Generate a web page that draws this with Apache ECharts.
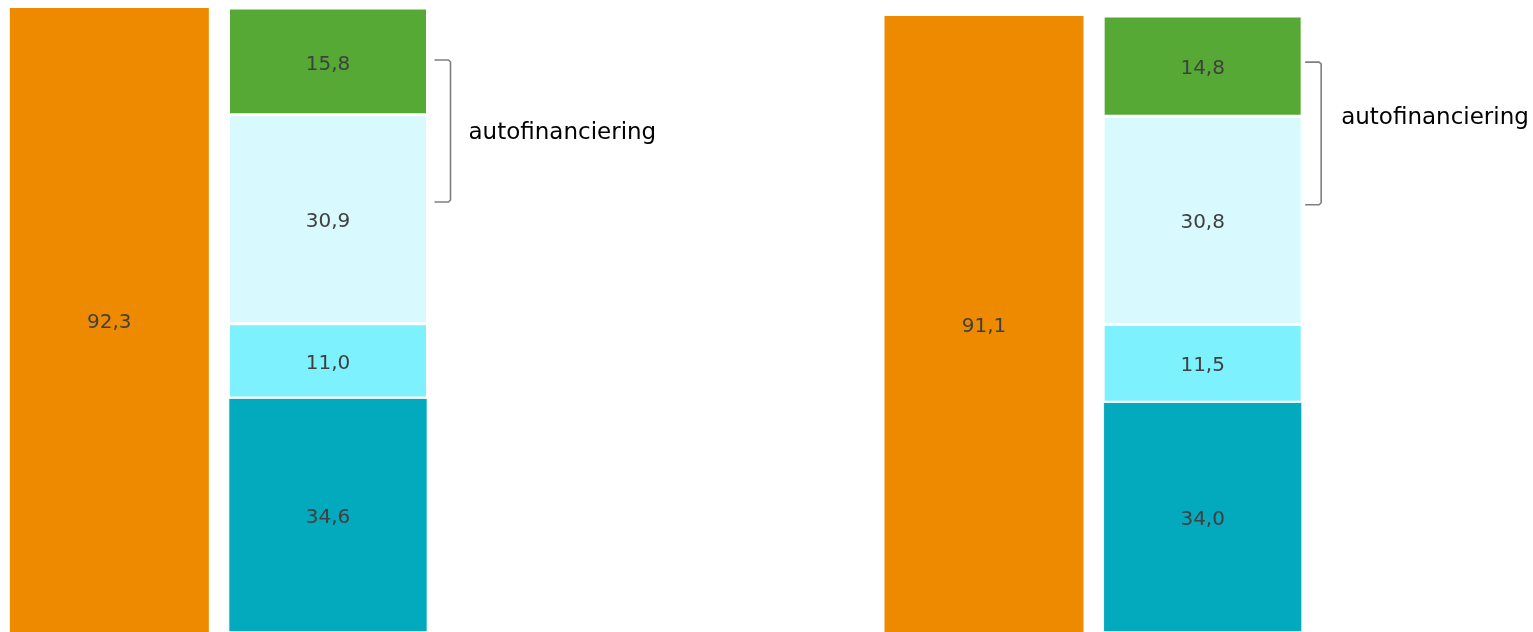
<!DOCTYPE html>
<html><head><meta charset="utf-8">
<script src="https://cdn.jsdelivr.net/npm/echarts@6/dist/echarts.min.js"></script>
<style>html,body{margin:0;padding:0;background:#fff}#c{width:1533px;height:632px}</style>
</head><body><div id="c"></div>
<script>
const categories = ['jaar 1 uitgaven', 'jaar 1 middelen', '', '', 'jaar 2 uitgaven', 'jaar 2 middelen'];
const uitgaven   = [92.3, null, null, null, 91.1, null];
const deel1      = [null, 34.6, null, null, null, 34.0];
const deel2      = [null, 11.0, null, null, null, 11.5];
const deel3      = [null, 30.9, null, null, null, 30.8];
const deel4      = [null, 15.8, null, null, null, 14.8];
const bracketLabel = 'autofinanciering';
const bracketCats = [1, 5];
const bracketRanges = [[63.6, 84.6], [63.2, 84.3]];
const bracketLabelValues = [73.8, 76.0];

const fmt = p => p.value == null ? '' : p.value.toFixed(1).replace('.', ',');
const lbl = {show: true, position: 'inside', offset: [0, 3], color: '#404040', fontSize: 20, fontFamily: 'DejaVu Sans', formatter: fmt};
function s(name, data, color, bw) {
  return {name, type: 'bar', stack: 'a', data, barWidth: 199, label: lbl,
    itemStyle: {color, borderColor: '#fff', borderWidth: bw}, silent: true};
}
const chart = echarts.init(document.getElementById('c'));
chart.setOption({
  animation: false,
  grid: {left: -2, width: 1314, top: 8, bottom: 0},
  xAxis: {type: 'category', data: categories, show: false},
  yAxis: {type: 'value', min: 0, max: 'dataMax', show: false},
  series: [
    s('uitgaven', uitgaven, '#EE8A00', 0),
    s('deel1', deel1, '#03A9BC', 0.8),
    s('deel2', deel2, '#7EF1FE', 1.5),
    s('deel3', deel3, '#D8F9FD', 1.5),
    s('deel4', deel4, '#56A935', 1.5)
  ]
});
const xOff = [[7, 23, 41], [3, 19, 39]];
const graphics = [];
bracketCats.forEach((ci, i) => {
  const cx = chart.convertToPixel({gridIndex: 0}, [ci, 0])[0];
  const right = cx + 99.5;
  const yTop = chart.convertToPixel({gridIndex: 0}, [ci, bracketRanges[i][1]])[1];
  const yBot = chart.convertToPixel({gridIndex: 0}, [ci, bracketRanges[i][0]])[1];
  const yL = chart.convertToPixel({gridIndex: 0}, [ci, bracketLabelValues[i]])[1];
  const x0 = right + xOff[i][0], x1 = right + xOff[i][1];
  graphics.push({type: 'polyline', shape: {points: [[x0, yTop], [x1 - 2, yTop], [x1, yTop + 2], [x1, yBot - 2], [x1 - 2, yBot], [x0, yBot]]},
    style: {stroke: '#7f7f7f', lineWidth: 1.6, fill: null}, silent: true});
  graphics.push({type: 'text', x: right + xOff[i][2], y: yL,
    style: {text: bracketLabel, fill: '#000', fontSize: 23, fontFamily: 'DejaVu Sans', verticalAlign: 'middle', align: 'left'}, silent: true});
});
chart.setOption({graphic: graphics});
</script></body></html>
